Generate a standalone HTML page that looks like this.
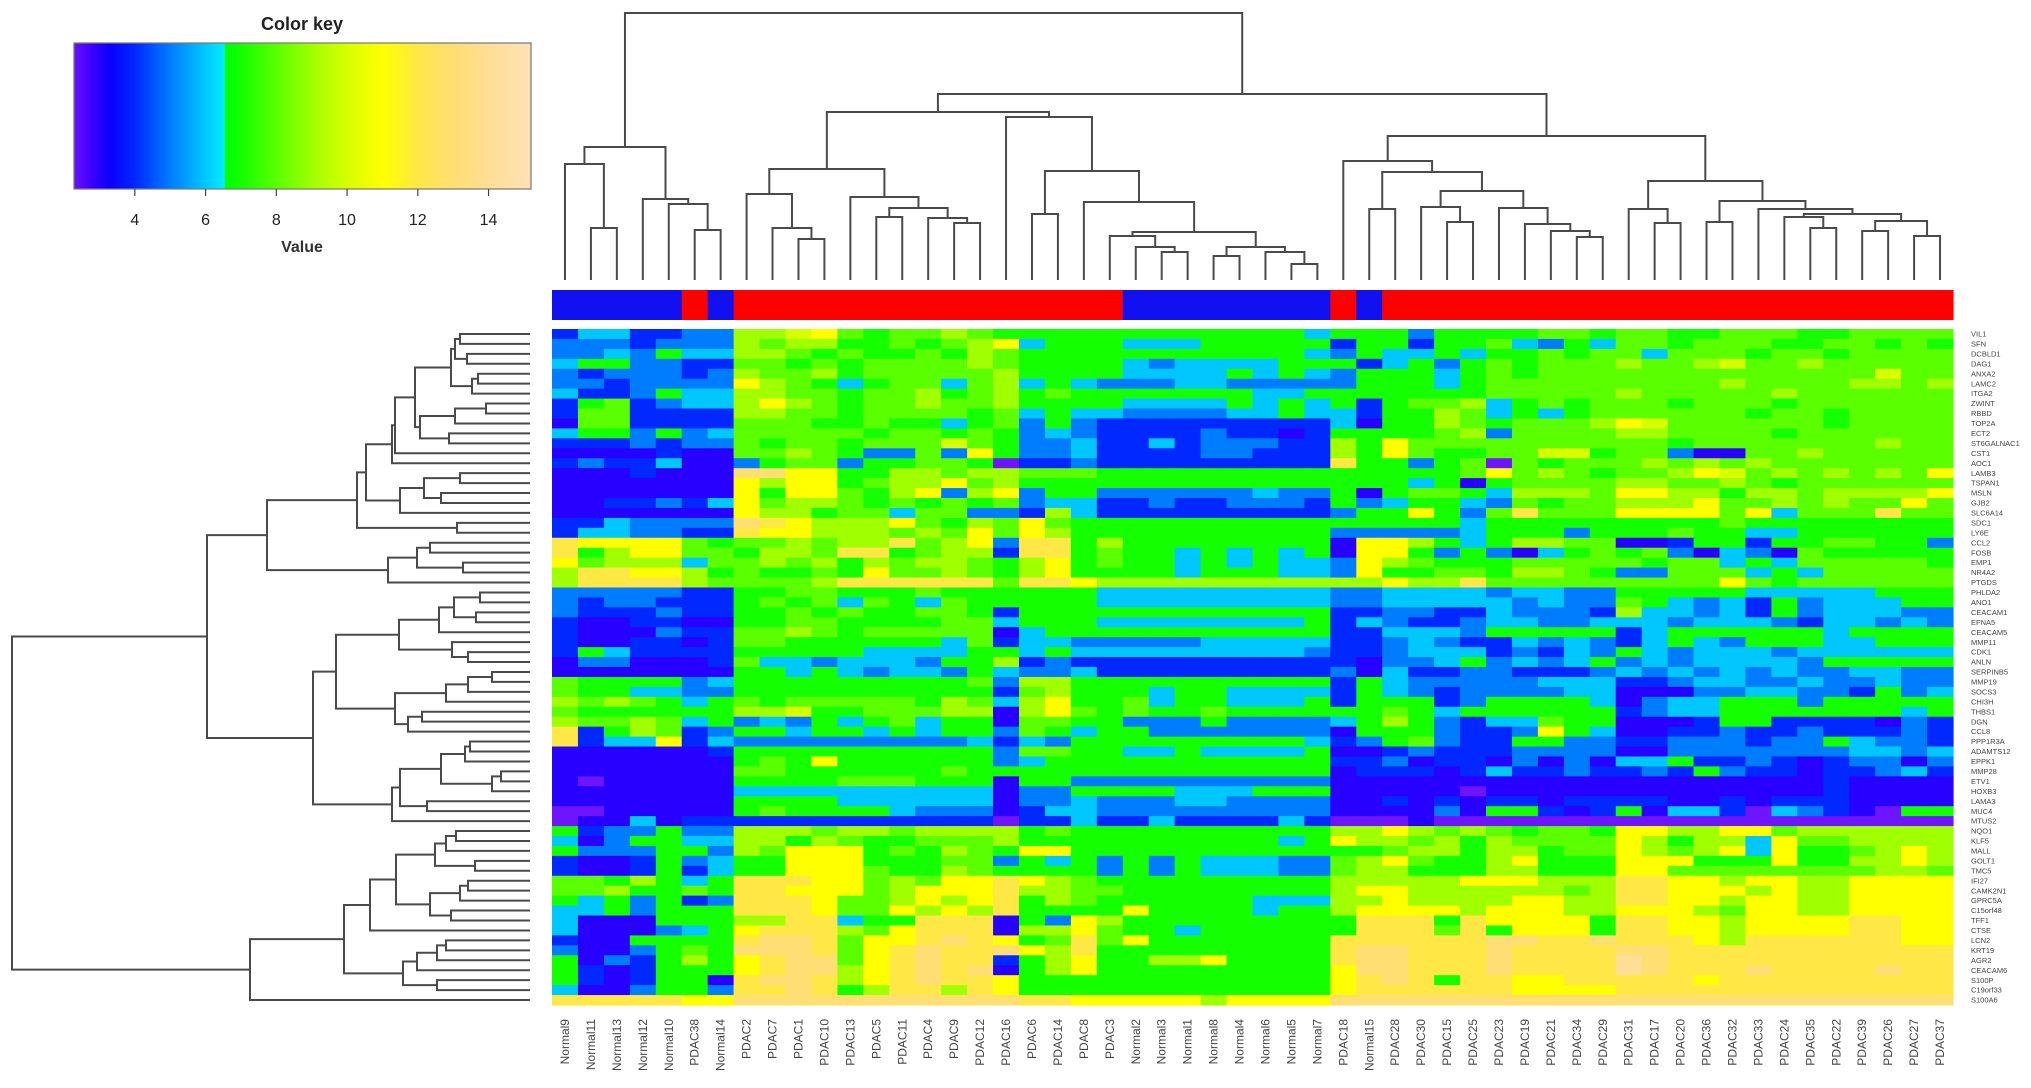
<!DOCTYPE html>
<html><head><meta charset="utf-8"><title>Heatmap</title>
<style>
html,body{margin:0;padding:0;background:#fff;}
svg{display:block;font-family:"Liberation Sans",Arial,sans-serif;}
</style></head>
<body>
<svg id="chart" width="2031" height="1088" viewBox="0 0 2031 1088" xmlns="http://www.w3.org/2000/svg">
<rect x="0" y="0" width="2031" height="1088" fill="#fff"/>
<g id="key"></g>
<g id="coldendro"></g>
<g id="rowdendro"></g>
<g id="groupbar"></g>
<g id="cells"></g>
<g id="collabels"></g>
<g id="rowlabels"></g>
</svg>
<script>
const samples = ["Normal9","Normal11","Normal13","Normal12","Normal10","PDAC38","Normal14","PDAC2","PDAC7","PDAC1","PDAC10","PDAC13","PDAC5","PDAC11","PDAC4","PDAC9","PDAC12","PDAC16","PDAC6","PDAC14","PDAC8","PDAC3","Normal2","Normal3","Normal1","Normal8","Normal4","Normal6","Normal5","Normal7","PDAC18","Normal15","PDAC28","PDAC30","PDAC15","PDAC25","PDAC23","PDAC19","PDAC21","PDAC34","PDAC29","PDAC31","PDAC17","PDAC20","PDAC36","PDAC32","PDAC33","PDAC24","PDAC35","PDAC22","PDAC39","PDAC26","PDAC27","PDAC37"];
const genes = ["VIL1","SFN","DCBLD1","DAG1","ANXA2","LAMC2","ITGA2","ZWINT","RBBD","TOP2A","ECT2","ST6GALNAC1","CST1","AOC1","LAMB3","TSPAN1","MSLN","GJB2","SLC6A14","SDC1","LY6E","CCL2","FOSB","EMP1","NR4A2","PTGDS","PHLDA2","ANO1","CEACAM1","EFNA5","CEACAM5","MMP11","CDK1","ANLN","SERPINB5","MMP19","SOCS3","CHI3H","THBS1","DGN","CCL8","PPP1R3A","ADAMTS12","EPPK1","MMP28","ETV1","HOXB3","LAMA3","MUC4","MTUS2","NQO1","KLF5","MALL","GOLT1","TMC5","IFI27","CAMK2N1","GPRC5A","C15orf48","TFF1","CTSE","LCN2","KRT19","AGR2","CEACAM6","S100P","C19orf33","S100A6"];
// expression levels, one hex digit per sample (2..f = 2..15)
const expr = [
"4664455 99ab8788987 7777 77777776 77 7577 778878877888778888",
"5554555 9899778789b 6777 66677777 47 7477 865768878887788787",
"5565766 99878778798 7777 77777776 57 6676 778788688878878888",
"6775544 88787888898 7777 65666677 74 6757 878889889a88988888",
"5455545 98897888889 7777 66667676 57 7767 878888888888888a88",
"5545555 b9876788689 6765 55665555 57 7767 888888888988889989",
"6445766 99887889789 7877 77777667 77 7777 888889888889888888",
"4784566 9b987889889 7777 66667676 74 7889 678788878887888888",
"4884444 99887888878 6766 55556676 64 7798 676788888878878888",
"3884444 88877877678 5754 44444444 63 7798 78889ba88888878888",
"6775756 88888788787 5654 44454434 77 7789 588889988887888888",
"4445455 87887888a87 5564 46455544 97 b888 888888878888888988",
"3333433 889875585b7 5564 44455444 97 b877 88aa78853388988888",
"4544633 57885778872 4454 44444444 c7 7578 287888989898888888",
"3334333 ddbb7799899 8887 77777777 77 7778 b8987889ba8989898b",
"3333333 b9bb7899b89 7777 77777777 77 7673 788889988987888888",
"3333333 b7bb879b59b 5775 55555655 73 7887 69998bb9979989999b",
"3344546 b8998787878 5664 45445554 75 6776 58788999b8898988b8",
"3333333 b9978868855 4964 44444444 57 7b75 8c888bbbb8b6888c88",
"4465555 dcb999b8798 b877 77777777 77 7776 777777777877777777",
"4665544 cbb999898b8 b977 77777777 55 5556 777577787766777777",
"cbbbb87 889899c89b5 cc79 77777777 3b b976 799883347747788775",
"c79bb88 7998cc78994 cc78 77676767 3b b757 536787853653877777",
"b899968 89897989987 9b78 77676766 5b 9877 788888788676888887",
"9ccbb97 87787b88987 9b77 77677766 5b 7788 799875588867688888",
"9cccc98 8889cccccc8 ccb9 99999999 99 b99c 888888888b87888888",
"5555544 77887778777 7776 66666666 55 6666 566557777766666777",
"5455444 78786876877 7776 66666666 55 6666 656558765647566677",
"5444544 77878778874 7777 77777777 44 5544 655549665647566655",
"4334433 77887777886 7776 66666667 46 5445 665566656665466565",
"4333544 88987888883 6777 77777777 44 6665 777774677777767777",
"4334434 88777777684 6655 55566666 44 5654 465654676577766777",
"4764444 77777666677 6766 66666665 44 5666 454657656665666666",
"3553334 86656665779 4544 44444444 43 5567 565675656666577777",
"3333333 77676566576 5564 44444444 53 6445 544456565656556655",
"8777756 77777777785 9977 77777777 47 6555 556664456655655655",
"8776655 77777777774 8977 76776666 47 6545 555663335566554756",
"9898767 87888887986 9b77 86776667 47 7745 777763566777577777",
"8777777 99a77888993 9b87 87787777 77 8767 777774566777777767",
"9889867 56576786773 8877 55575555 67 9754 668773334774444354",
"c479845 77677676775 8767 75555555 37 7754 45b763344544544454",
"c466b46 55555555564 6577 77777776 45 7854 477554455545576554",
"3333334 77777777775 8877 66766667 33 4544 455553355555556656",
"3333333 787b7777775 6777 77777777 44 5344 353536674454345535",
"3333333 88777777877 7777 77777777 34 4434 644544547544344564",
"3233333 77778887773 7755 55555555 33 3333 333333333333343333",
"3333333 66666666663 5577 77666777 33 3332 333333333333343333",
"3333333 77776666663 5565 55665555 33 4343 443444433434443333",
"2233333 78777765553 4665 55555555 33 3353 774347366426543277",
"2336344 44444444442 4464 46444464 22 2322 222222222222222222",
"7455755 99989989999 7877 77777777 99 b989 87887bb99bb8999999",
"6357766 99798778889 7777 77777767 b9 9897 98888b97996b889999",
"7555775 98bbb787987 bb77 77777777 77 8997 99788b989b6b7789b9",
"4334756 77bbb777885 7675 75766655 89 b877 9b777bbb777b7799b9",
"4334746 77bbb877987 7775 75766655 89 9777 99777bb88888888998",
"8879767 cccbb898bbc b987 77777777 99 999b bb999ccbb9bb99bbbb",
"8897787 ccbbb89bbbc 9988 77777777 9b b999 99989ccbbb9b99bbbb",
"7675745 cccb889b9bc 7987 77777666 99 b999 9bb99ccbb9bb99bbbb",
"6675777 cccb88b9b9c 7777 b7777677 9b bbb9 bbb99bbb98bb99bbbb",
"6333777 99cc677ccc3 75b9 77777777 7c cc7c bbbb7ccbb9bbbbccbb",
"6333567 bccc98bccc3 99b8 77677777 7c cc8c 7bbb7ccbb9bbbbccbb",
"4337777 cddc8bbcdcb 78c8 b7777777 cc cccc ddccdcccb9ccccccbb",
"5335787 dddc8bcdccd b9c7 77777777 cd dccc dccccddccccccccccc",
"7354797 bcdd8bcdcc4 79b7 799b7777 cd dccc dccccedccccccccccc",
"7434777 bcdd9bcdcd3 79b7 77777777 bd dccc dccccedcccdccccdcc",
"7434773 cddc9bcdccb 7777 77777777 bc dc7c cbbcccccbccccccccc",
"6335775 ccdc79cc9cb 7777 77777777 bc cccc cbbbbccccccccccccc",
"cccccbb ddddddddddd ccbb bbb9bbbb dd dddd dddddddddddddddddd"
];
const keyTicks = [4,6,8,10,12,14];
// column dendrogram: [left, right, mergeHeightY]
const colTree = [[[0,[1,2,228],164],[3,[4,[5,6,230],204],199],147],
 [[[[7,[8,[9,10,239],228],194],[11,[[12,13,217],[14,[15,16,223],218],208],197],169],
   [17,[[18,19,214],[20,[[21,[22,[23,24,252],247],236],[[25,26,256],[27,[28,29,264],252],247],232],202],171],117],112],
  [[30,[[31,32,209],[[33,[34,35,222],207],[36,[37,[38,[39,40,237],231],224],208],191],172],161],
   [[41,[42,43,223],209],[[44,45,222],[46,[[47,[48,49,228],217],[[50,51,231],[52,53,236],221],214],209],201],181],136],94],13];
// row dendrogram: [top, bottom, mergeHeightX]
const TA=[[[0,1,460],[2,3,467],455],[[4,5,478],6,472],451];
const TB=[[[7,8,486],9,455],[10,11,449],420];
const TC=[[[TA,TB,415],12,395],13,392];
const TD=[[[14,15,460],[16,17,441],424],18,400];
const TE=[[TC,TD,366],[19,20,457],357];
const TF=[[[21,22,430],[23,24,463],417],25,388];
const BA=[[[[26,27,480],[28,29,476],454],30,439],[31,[32,33,468],452],399];
const BB=[[[[34,35,492],36,468],37,446],[[38,39,422],40,408],395];
const BC=[[[[41,42,470],43,465],[[44,45,501],46,492],441],[47,48,427],400];
const BOT=[[[[[[[50,51,456],52,446],[53,54,475],435],[[[55,56,468],57,460],[58,59,451],430],396],60,370],[[[[61,62,446],63,437],64,417],[65,66,437],403],344],67,250];
const rowTree=[[[TE,TF,267],[[BA,BB,336],[BC,49,392],313],207],BOT,12];

const NS="http://www.w3.org/2000/svg";
function mk(parent,tag,attrs){const e=document.createElementNS(NS,tag);for(const k in attrs)e.setAttribute(k,attrs[k]);parent.appendChild(e);return e;}

const HX0=552,HX1=1953,HY0=329,HY1=1005;
const nC=samples.length,nR=genes.length;
const cw=(HX1-HX0)/nC, rh=(HY1-HY0)/nR;
const xCol=i=>HX0+i*cw;
const yRow=r=>HY0+r*rh;

const stops=[[2.2,110,20,255],[2.8,60,0,255],[3.3,10,0,255],[4,0,40,255],[5,0,125,255],[6,0,200,255],[6.54,0,240,255],[6.55,0,255,0],[7,20,255,0],[8,90,255,0],[9,160,255,0],[10,215,255,0],[11,255,255,0],[12,255,232,70],[13,255,222,115],[14,255,222,150],[15.3,255,226,185]];
function color(v){
  if(v<=stops[0][0])return `rgb(${stops[0][1]},${stops[0][2]},${stops[0][3]})`;
  for(let i=1;i<stops.length;i++){
    if(v<=stops[i][0]){const a=stops[i-1],b=stops[i];const t=(v-a[0])/(b[0]-a[0]);
      return `rgb(${Math.round(a[1]+t*(b[1]-a[1]))},${Math.round(a[2]+t*(b[2]-a[2]))},${Math.round(a[3]+t*(b[3]-a[3]))})`;}
  }
  const s=stops[stops.length-1];return `rgb(${s[1]},${s[2]},${s[3]})`;
}

const cells=document.getElementById('cells');
expr.forEach((rowStr,r)=>{
  const s=rowStr.replace(/ /g,'');
  for(let c=0;c<nC;c++){
    const ch=s[c]||'7';
    const v=parseInt(ch,16);
    const el=mk(cells,'rect',{x:xCol(c).toFixed(2),y:yRow(r).toFixed(2),width:(cw+0.6).toFixed(2),height:(rh+0.6).toFixed(2),fill:color(v)});
    
    
  }
});

const gb=document.getElementById('groupbar');
samples.forEach((s,c)=>{
  const el=mk(gb,'rect',{x:xCol(c).toFixed(2),y:290,width:(cw+0.6).toFixed(2),height:30,fill:s.startsWith('Normal')?'#1010f0':'#ff0000'});
  
  
});

const cl=document.getElementById('collabels');
samples.forEach((s,c)=>{
  const x=xCol(c)+cw/2+4,y=1019;
  const t=mk(cl,'text',{x:x,y:y,transform:`rotate(-90 ${x} ${y})`,'text-anchor':'end','font-size':12,fill:'#444'});
  t.textContent=s;
  
  
});

const rl=document.getElementById('rowlabels');
genes.forEach((g,r)=>{
  const t=mk(rl,'text',{x:1971,y:(yRow(r)+rh/2+2.6).toFixed(2),'font-size':7.5,fill:'#444'});
  t.textContent=g;
  
  
});

const LINE={stroke:'#4a4a4a','stroke-width':2,fill:'none'};
function drawCol(g,node){
  if(typeof node==='number')return {p:xCol(node)+cw/2,h:280};
  const a=drawCol(g,node[0]),b=drawCol(g,node[1]),h=node[2];
  mk(g,'path',Object.assign({d:`M${a.p},${a.h}V${h}H${b.p}V${b.h}`},LINE));
  return {p:(a.p+b.p)/2,h:h};
}
function drawRow(g,node){
  if(typeof node==='number')return {p:yRow(node)+rh/2,h:530};
  const a=drawRow(g,node[0]),b=drawRow(g,node[1]),h=node[2];
  mk(g,'path',Object.assign({d:`M${a.h},${a.p}H${h}V${b.p}H${b.h}`},LINE));
  return {p:(a.p+b.p)/2,h:h};
}
drawCol(document.getElementById('coldendro'),colTree);
drawRow(document.getElementById('rowdendro'),rowTree);

const key=document.getElementById('key');
const KX0=74,KX1=531,KY0=43,KY1=189,KV0=2.28,KV1=15.2;
const kx=v=>KX0+(v-KV0)/(KV1-KV0)*(KX1-KX0);
const N=300;
for(let i=0;i<N;i++){
  const v=KV0+(i+0.5)/N*(KV1-KV0);
  mk(key,'rect',{x:(KX0+i*(KX1-KX0)/N).toFixed(2),y:KY0,width:((KX1-KX0)/N+0.6).toFixed(2),height:KY1-KY0,fill:color(v)});
}
mk(key,'rect',{x:KX0,y:KY0,width:KX1-KX0,height:KY1-KY0,fill:'none',stroke:'#777','stroke-width':1.2});
const kt=mk(key,'text',{x:302,y:30,'text-anchor':'middle','font-size':18,'font-weight':'bold',fill:'#222'});
kt.textContent='Color key';


keyTicks.forEach(v=>{
  mk(key,'line',{x1:kx(v),x2:kx(v),y1:KY1,y2:KY1+7,stroke:'#444','stroke-width':1.2});
  const t=mk(key,'text',{x:kx(v),y:225,'text-anchor':'middle','font-size':16,fill:'#222'});
  t.textContent=String(v);
  
  
});
const vl=mk(key,'text',{x:302,y:252,'text-anchor':'middle','font-size':16,'font-weight':'bold',fill:'#333'});
vl.textContent='Value';


</script>
</body></html>
